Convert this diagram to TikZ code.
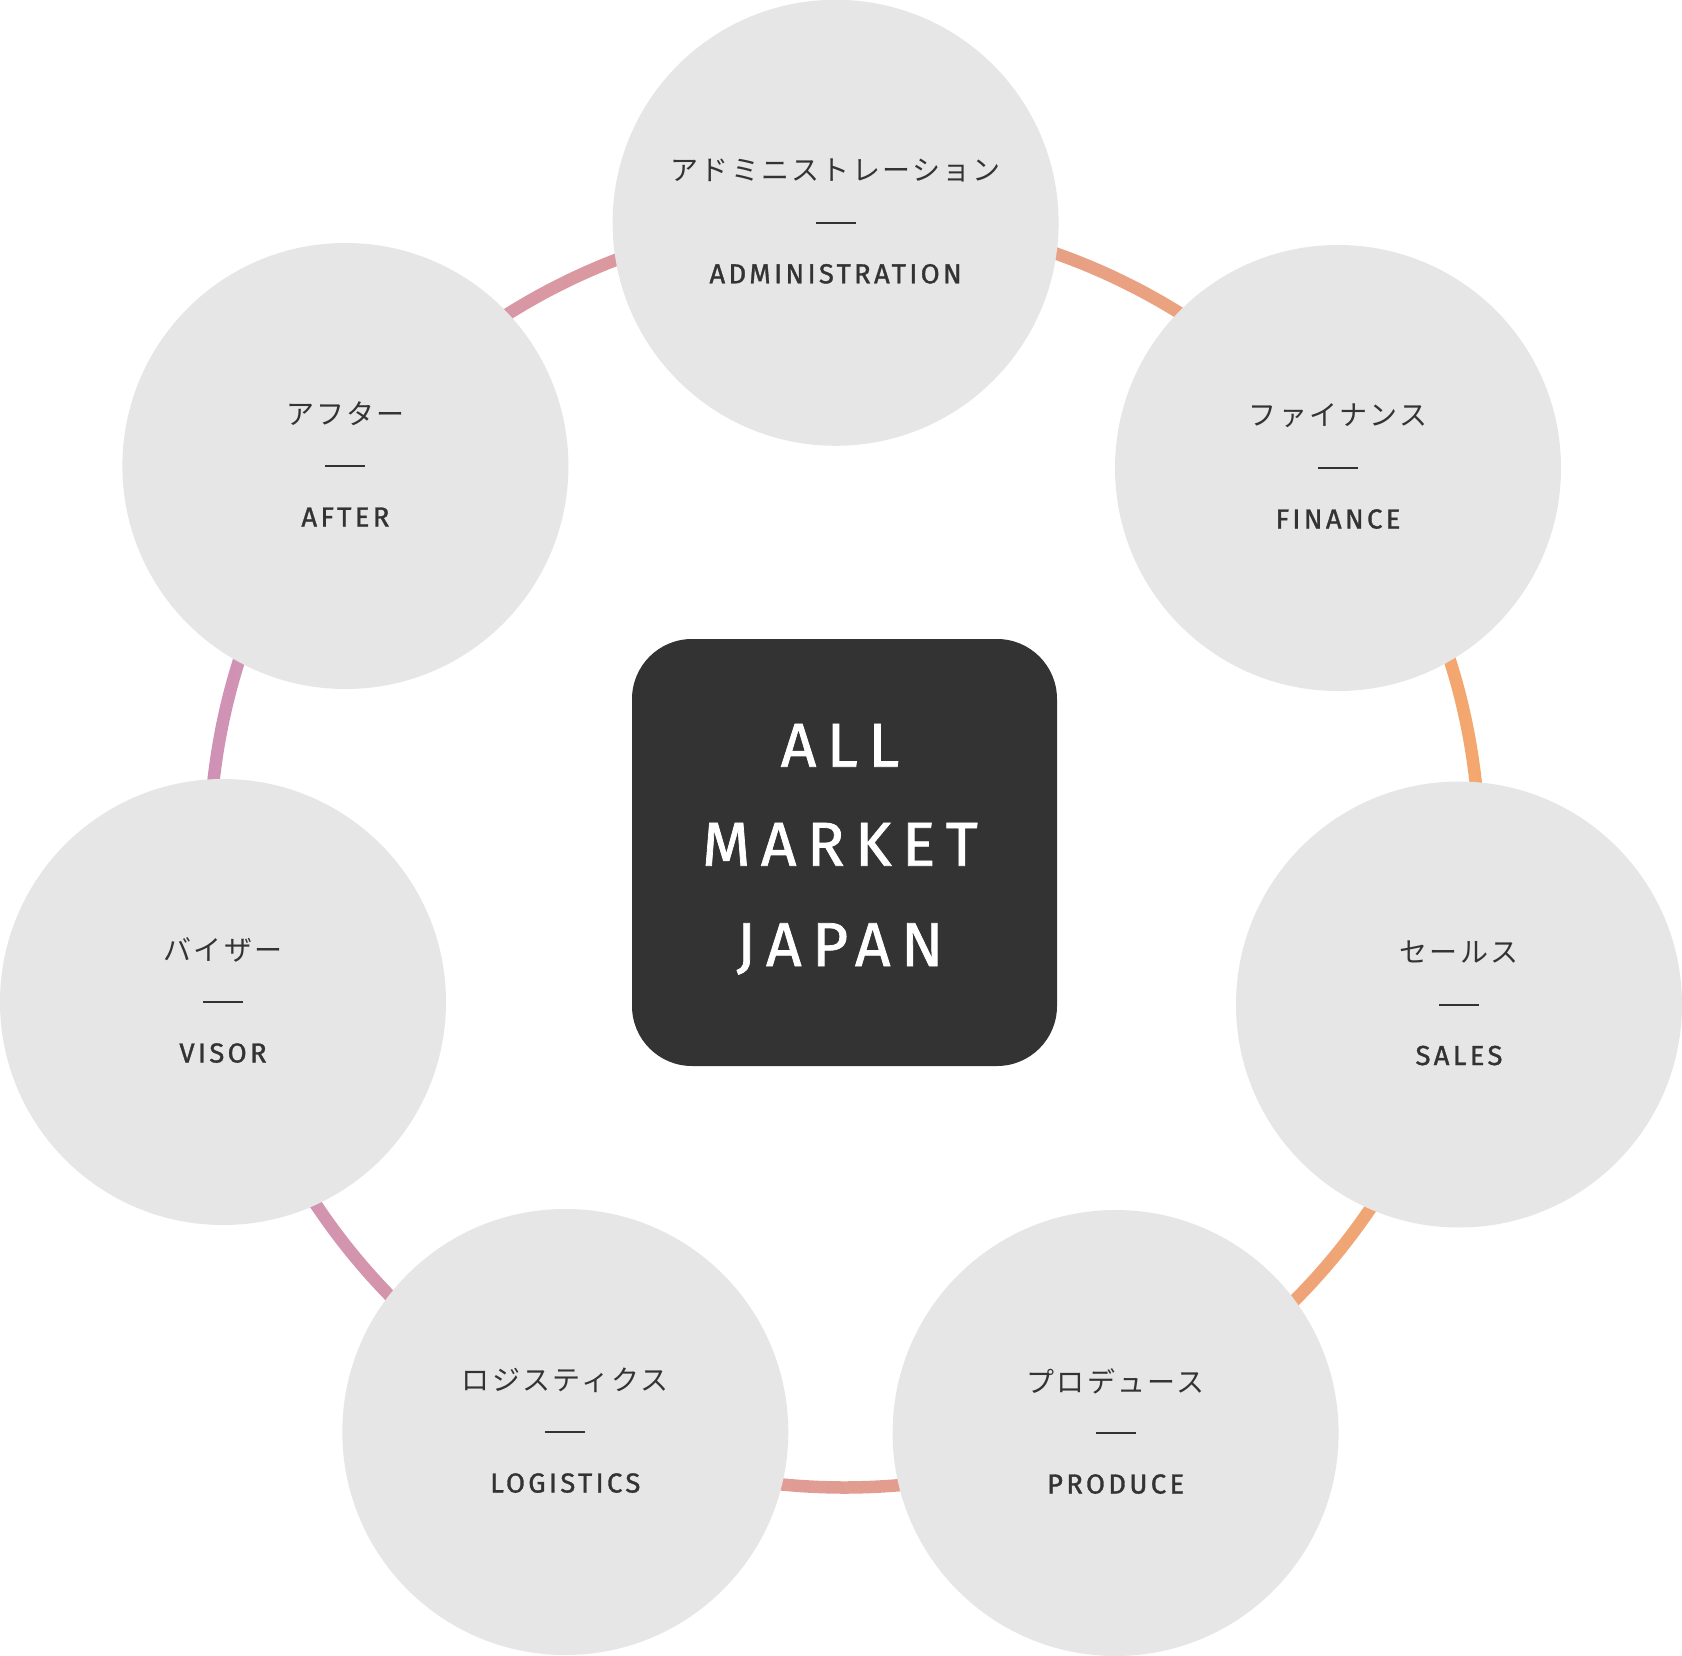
\documentclass[tikz,border=0pt]{standalone}
\usepackage{fontspec}
\newfontfamily\jpf[LetterSpace=8]{Noto Sans CJK JP}
\newfontfamily\enf[LetterSpace=12,FakeBold=1.2]{Fira Sans}
\newfontfamily\enbig[LetterSpace=17,FakeBold=1.2]{Fira Sans}
\definecolor{ink}{HTML}{333333}
\definecolor{bub}{HTML}{E6E6E6}
\definecolor{ringL}{HTML}{CF92B6}
\definecolor{ringR}{HTML}{F4A76D}
\tikzset{
 bubblestyle/.style={circle, fill=bub, minimum size=446pt, inner sep=0pt},
 jpstyle/.style={inner sep=0pt, text=ink, font=\jpf\fontsize{28}{34}\selectfont},
 enstyle/.style={inner sep=0pt, text=ink, font=\enf\fontsize{27.5}{33}\selectfont},
 dashstyle/.style={draw=ink, line width=2pt},
 boxstyle/.style={rectangle, rounded corners=60pt, fill=ink, minimum width=425pt, minimum height=427pt, inner sep=0pt},
 bigstyle/.style={inner sep=0pt, text=white, font=\enbig\fontsize{62}{70}\selectfont},
}
\newcommand\mkbubble[5]{%
 \node[bubblestyle] (#1) at (#2,#3) {};
 \node[jpstyle] (#1-jp) at ([yshift=52pt]#1.center) {#4};
 \draw[dashstyle] ([xshift=-20pt]#1.center) -- ([xshift=20pt]#1.center);
 \node[enstyle, anchor=base] (#1-en) at ([yshift=-60.5pt]#1.center) {#5};
}
\begin{document}
\begin{tikzpicture}[x=1pt,y=-1pt]
\useasboundingbox[fill=white] (0,0) rectangle (1682,1656);
\node[boxstyle] (amj) at (844.5,852.5) {};
\shade[left color=ringL, right color=ringR, even odd rule] (amj.center) circle[radius=641.25pt] (amj.center) circle[radius=628.75pt];
\mkbubble{admin}{835.6}{222.8}{アドミニストレーション}{ADMINISTRATION}
\mkbubble{finance}{1338}{468}{ファイナンス}{FINANCE}
\mkbubble{sales}{1459}{1004.5}{セールス}{SALES}
\mkbubble{produce}{1115.6}{1433}{プロデュース}{PRODUCE}
\mkbubble{logistics}{565.3}{1432}{ロジスティクス}{LOGISTICS}
\mkbubble{visor}{223}{1002}{バイザー}{VISOR}
\mkbubble{after}{345.4}{466}{アフター}{AFTER}
\node[bigstyle, anchor=base] (all) at (840,766.7) {ALL};
\node[bigstyle, anchor=base] (market) at (840,865.7) {MARKET};
\node[bigstyle, anchor=base] (japan) at (840,966) {JAPAN};
\end{tikzpicture}
\end{document}
